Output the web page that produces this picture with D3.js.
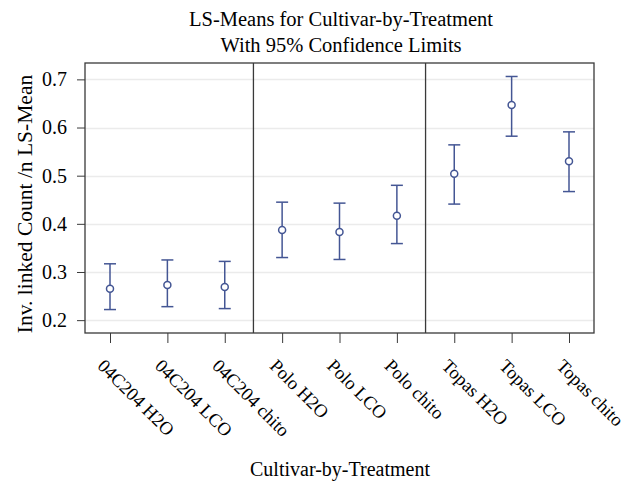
<!DOCTYPE html>
<html>
<head>
<meta charset="utf-8">
<script src="https://cdn.jsdelivr.net/npm/d3@7"></script>
<style>
  body { margin: 0; background: #fff; }
  text { font-family: "Liberation Serif", "DejaVu Serif", serif; fill: #000; }
</style>
</head>
<body>
<div id="chart"></div>
<script>
// 数据
const categories = ['04C204 H2O', '04C204 LCO', '04C204 chito', 'Polo H2O', 'Polo LCO', 'Polo chito', 'Topas H2O', 'Topas LCO', 'Topas chito'];
const means = [0.265, 0.273, 0.269, 0.387, 0.383, 0.417, 0.504, 0.647, 0.530];
const lower = [0.222, 0.228, 0.224, 0.330, 0.326, 0.359, 0.441, 0.582, 0.467];
const upper = [0.317, 0.325, 0.322, 0.445, 0.443, 0.480, 0.564, 0.706, 0.591];
const yTicks = [0.2, 0.3, 0.4, 0.5, 0.6, 0.7];
// 分组分隔线位于这两个类别之后
const groupBreaks = ['04C204 chito', 'Polo chito'];

const width = 630, height = 483;
const plotLeft = 85, plotRight = 594, plotTop = 63, plotBottom = 333;
const color = '#445694';

const svg = d3.select('#chart').append('svg')
    .attr('width', width)
    .attr('height', height);

const x = d3.scalePoint()
    .domain(categories)
    .range([plotLeft + 25, plotRight - 25]);

const y = d3.scaleLinear()
    .domain([0.1733, 0.734])
    .range([plotBottom, plotTop]);

// 标题
svg.append('text')
    .attr('x', 341).attr('y', 26)
    .attr('text-anchor', 'middle')
    .attr('font-size', 20.5)
    .text('LS-Means for Cultivar-by-Treatment');
svg.append('text')
    .attr('x', 341).attr('y', 52)
    .attr('text-anchor', 'middle')
    .attr('font-size', 20.5)
    .text('With 95% Confidence Limits');

// 网格线
svg.append('g')
    .selectAll('line')
    .data(yTicks)
    .enter().append('line')
    .attr('x1', plotLeft).attr('x2', plotRight)
    .attr('y1', d => Math.round(y(d)) + 0.5)
    .attr('y2', d => Math.round(y(d)) + 0.5)
    .attr('stroke', '#ebebeb')
    .attr('stroke-width', 1.5);

// 分隔线
svg.append('g')
    .selectAll('line')
    .data(groupBreaks)
    .enter().append('line')
    .attr('x1', d => x(d) + x.step() / 2)
    .attr('x2', d => x(d) + x.step() / 2)
    .attr('y1', plotTop).attr('y2', plotBottom)
    .attr('stroke', '#3a3a3a')
    .attr('stroke-width', 1.3);

// 坐标框
svg.append('rect')
    .attr('x', plotLeft).attr('y', plotTop)
    .attr('width', plotRight - plotLeft).attr('height', plotBottom - plotTop)
    .attr('fill', 'none')
    .attr('stroke', '#3a3a3a')
    .attr('stroke-width', 1.3);

// Y 轴
const yAxis = svg.append('g')
    .attr('transform', `translate(${plotLeft},0)`)
    .call(d3.axisLeft(y).tickValues(yTicks).tickFormat(d3.format('.1f')).tickSizeOuter(0).tickSize(8).tickPadding(10));
yAxis.select('.domain').remove();
yAxis.selectAll('line').attr('stroke', '#3a3a3a');
yAxis.selectAll('text').attr('font-size', 20).attr('font-family', '"Liberation Serif", serif').attr('fill', '#000');

// X 轴
const xAxis = svg.append('g')
    .attr('transform', `translate(0,${plotBottom})`)
    .call(d3.axisBottom(x).tickSizeOuter(0).tickSize(10));
xAxis.select('.domain').remove();
xAxis.selectAll('line').attr('stroke', '#3a3a3a');
xAxis.selectAll('text')
    .attr('font-size', 18.5)
    .attr('font-family', '"Liberation Serif", serif')
    .attr('fill', '#000')
    .attr('text-anchor', 'start')
    .attr('dy', null)
    .attr('y', 0)
    .attr('transform', 'translate(-14,34) rotate(45)');

// 轴标题
svg.append('text')
    .attr('x', 340).attr('y', 476)
    .attr('text-anchor', 'middle')
    .attr('font-size', 20)
    .text('Cultivar-by-Treatment');
svg.append('text')
    .attr('transform', `translate(32,${(plotTop + plotBottom) / 2 + 6}) rotate(-90)`)
    .attr('text-anchor', 'middle')
    .attr('font-size', 21.5)
    .text('Inv. linked Count /n LS-Mean');

// 置信区间
const idx = d3.range(categories.length);
const g = svg.append('g').attr('stroke', color).attr('stroke-width', 1.5).attr('fill', 'none');
g.selectAll('.bar').data(idx).enter().append('line')
    .attr('x1', i => x(categories[i])).attr('x2', i => x(categories[i]))
    .attr('y1', i => y(lower[i])).attr('y2', i => y(upper[i]));
g.selectAll('.capU').data(idx).enter().append('line')
    .attr('x1', i => x(categories[i]) - 6).attr('x2', i => x(categories[i]) + 6)
    .attr('y1', i => y(upper[i])).attr('y2', i => y(upper[i]));
g.selectAll('.capL').data(idx).enter().append('line')
    .attr('x1', i => x(categories[i]) - 6).attr('x2', i => x(categories[i]) + 6)
    .attr('y1', i => y(lower[i])).attr('y2', i => y(lower[i]));
g.selectAll('circle').data(idx).enter().append('circle')
    .attr('cx', i => x(categories[i]))
    .attr('cy', i => y(means[i]))
    .attr('r', 3.5)
    .attr('fill', '#fff');
</script>
</body>
</html>
